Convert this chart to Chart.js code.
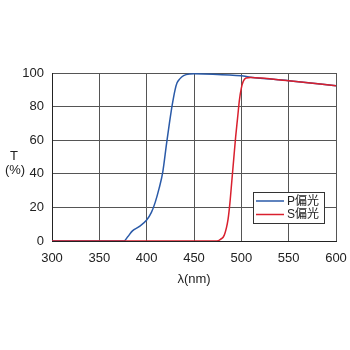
<!DOCTYPE html>
<html>
<head>
<meta charset="utf-8">
<script src="https://cdn.jsdelivr.net/npm/chart.js@4/dist/chart.umd.min.js"></script>
<style>
  body { margin: 0; background: #fff; }
  #wrap { width: 350px; height: 350px; }
</style>
</head>
<body>
<div id="wrap"><canvas id="myChart" width="350" height="350"></canvas></div>
<script>
// Wavelength (nm) and transmittance (%)
const pWave = [300, 376, 380, 385, 392, 400, 405, 409, 413, 417, 421, 424, 427, 430, 432, 435, 439, 446, 450, 470, 500, 510, 550, 600];
const pTrans = [0, 0, 2.5, 6, 8.5, 12.5, 17, 23, 31, 41, 58, 70, 81, 90, 94, 96.5, 98.4, 99.4, 99.5, 99.3, 98.3, 97.5, 95.4, 92.4];

const sWave = [300, 474, 478, 482, 486, 488, 490, 492, 494, 496, 498, 500, 502, 505, 510, 520, 550, 600];
const sTrans = [0, 0, 1, 3.5, 13, 23, 36, 49, 62, 73, 84, 91, 95, 97, 97.3, 97, 95.4, 92.4];

const seriesNames = ["P偏光", "S偏光"];
const xTicks = [300, 350, 400, 450, 500, 550, 600];
const yTicks = [0, 20, 40, 60, 80, 100];

const font = "'Liberation Sans', Arial, 'Noto Sans CJK JP', sans-serif";
const blue = "#2a5aa8";
const red = "#d9202e";

function toPoints(xs, ys) {
    return xs.map((x, i) => ({ x: x, y: ys[i] }));
}

// legend box and the "T (%)" label drawn by hand
const extras = {
    id: "extras",
    afterDraw(chart) {
        const c = chart.ctx;
        c.save();
        c.fillStyle = "#222";
        c.font = "13px " + font;
        c.textAlign = "center";
        c.textBaseline = "middle";
        c.fillText("T", 14, 156);
        c.fillText("(%)", 15, 170);

        // legend
        const bx = 253, by = 192, bw = 71, bh = 31;
        c.fillStyle = "#fff";
        c.fillRect(bx, by, bw, bh);
        c.strokeStyle = "#333";
        c.lineWidth = 1;
        c.strokeRect(bx + 0.5, by + 0.5, bw, bh);
        const cols = [blue, red];
        seriesNames.forEach((name, i) => {
            const y = 201 + i * 13.5;
            c.strokeStyle = cols[i];
            c.lineWidth = 1.5;
            c.beginPath();
            c.moveTo(256, y);
            c.lineTo(284, y);
            c.stroke();
            c.fillStyle = "#222";
            c.textAlign = "left";
            c.font = "12px " + font;
            c.fillText(name, 287, y + 0.5);
        });
        c.restore();
    }
};

const ctx = document.getElementById("myChart").getContext("2d");
const myChart = new Chart(ctx, {
    type: "line",
    data: {
        datasets: [
            {
                label: seriesNames[0],
                data: toPoints(pWave, pTrans),
                borderColor: blue,
                borderWidth: 1.5,
                pointRadius: 0,
                cubicInterpolationMode: "monotone",
                order: 1
            },
            {
                label: seriesNames[1],
                data: toPoints(sWave, sTrans),
                borderColor: red,
                borderWidth: 1.5,
                pointRadius: 0,
                cubicInterpolationMode: "monotone",
                order: 0
            }
        ]
    },
    options: {
        responsive: false,
        animation: false,
        events: [],
        layout: { padding: { left: 0, right: 14, top: 73, bottom: 59 } },
        plugins: {
            legend: { display: false },
            tooltip: { enabled: false }
        },
        scales: {
            x: {
                type: "linear",
                min: 300,
                max: 600,
                afterBuildTicks: (s) => { s.ticks = xTicks.map(v => ({ value: v })); },
                afterFit: (s) => { s.height = 50; s.paddingLeft = 0; s.paddingRight = 0; },
                grid: { color: "#555", lineWidth: 1, drawTicks: false },
                border: { color: "#222", width: 1 },
                ticks: { color: "#222", padding: 10, font: { size: 13, family: font } },
                title: {
                    display: true,
                    text: "λ(nm)",
                    color: "#222",
                    padding: { top: 2 },
                    font: { size: 13, family: font }
                }
            },
            y: {
                min: 0,
                max: 100,
                afterBuildTicks: (s) => { s.ticks = yTicks.map(v => ({ value: v })); },
                afterFit: (s) => { s.width = 52; s.paddingTop = 0; s.paddingBottom = 0; },
                grid: { color: "#555", lineWidth: 1, drawTicks: false },
                border: { color: "#222", width: 1 },
                ticks: { color: "#222", padding: 8, font: { size: 13, family: font } }
            }
        }
    },
    plugins: [extras]
});
</script>
</body>
</html>
